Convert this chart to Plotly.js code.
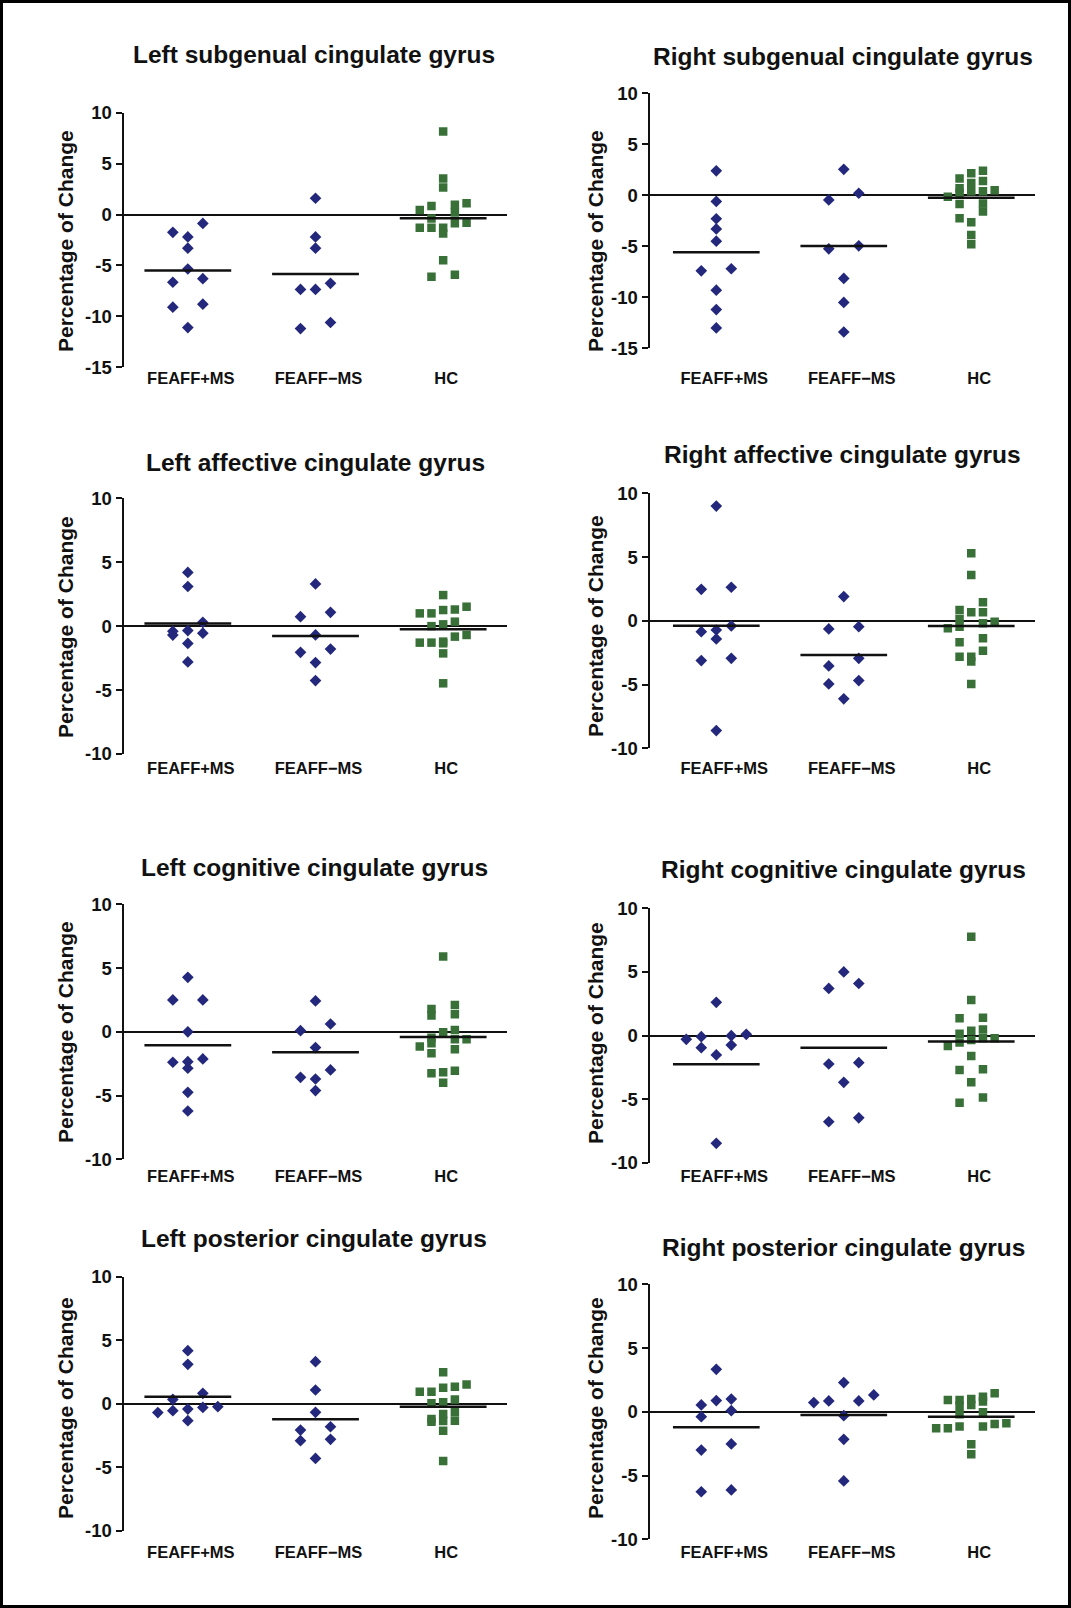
<!DOCTYPE html>
<html>
<head>
<meta charset="utf-8">
<script src="https://cdn.plot.ly/plotly-3.0.1.min.js"></script>
<style>
  html, body { margin: 0; padding: 0; background: #ffffff; }
  #chart { width: 1071px; height: 1608px; }
</style>
</head>
<body>
<div id="chart"></div>
<script>
// ---------------- DATA ----------------
const groups = ["FEAFF+MS", "FEAFF\u2212MS", "HC"];

const panelTitles = [
  "Left subgenual cingulate gyrus",
  "Right subgenual cingulate gyrus",
  "Left affective cingulate gyrus",
  "Right affective cingulate gyrus",
  "Left cognitive cingulate gyrus",
  "Right cognitive cingulate gyrus",
  "Left posterior cingulate gyrus",
  "Right posterior cingulate gyrus"
];
const yAxisTitle = "Percentage of Change";

const yTicksWide = [-15, -10, -5, 0, 5, 10];
const yTickTextWide = ["-15", "-10", "-5", "0", "5", "10"];
const yTicksNarrow = [-10, -5, 0, 5, 10];
const yTickTextNarrow = ["-10", "-5", "0", "5", "10"];

// Left subgenual
const lSubPlus  = [-0.87, -2.2, -1.75, -3.3, -5.35, -6.65, -6.3, -8.8, -9.1, -11.1];
const lSubMinus = [1.6, -2.2, -3.3, -6.75, -7.35, -7.35, -10.6, -11.2];
const lSubHC    = [8.15, 3.55, 2.65, 1.1, 0.85, 0.95, 0.2, 0.45, -0.4, -0.85, -0.8, -1.3, -1.3, -1.3, -1.85, -4.5, -6.1, -5.9];
const lSubMeans = [-5.5, -5.84, -0.37];

// Right subgenual
const rSubPlus  = [2.4, -0.6, -2.3, -3.3, -4.5, -7.2, -7.4, -9.3, -11.2, -13.0];
const rSubMinus = [2.55, 0.2, -0.45, -4.95, -5.25, -8.15, -10.5, -13.4];
const rSubHC    = [2.4, 2.15, 1.65, 1.4, 1.2, 0.7, 0.5, 0.4, 0.4, 0.25, -0.15, -0.85, -0.8, -1.6, -2.25, -2.65, -3.9, -4.8];
const rSubMeans = [-5.59, -4.97, -0.23];

// Left affective
const lAffPlus  = [4.2, 3.1, 0.3, -0.4, -0.7, -0.55, -0.35, -1.35, -2.8];
const lAffMinus = [3.3, 1.08, 0.74, -0.69, -2.05, -1.79, -2.85, -4.26];
const lAffHC    = [2.43, 1.52, 1.26, 1.3, 1.0, 1.0, 0.35, 0.14, 0.0, -0.69, -0.82, -1.29, -1.34, -1.29, -1.21, -2.13, -4.47];
const lAffMeans = [0.2, -0.77, -0.25];

// Right affective
const rAffPlus  = [9.0, 2.63, 2.47, -0.72, -0.85, -0.4, -1.42, -2.94, -3.12, -8.61];
const rAffMinus = [1.9, -0.46, -0.64, -2.94, -3.54, -4.69, -4.95, -6.12];
const rAffHC    = [5.3, 3.6, 1.45, 0.85, 0.67, 0.67, 0.14, -0.07, -0.46, -0.59, -0.2, -1.37, -1.69, -2.34, -2.81, -2.81, -3.2, -4.95];
const rAffMeans = [-0.38, -2.68, -0.41];

// Left cognitive
const lCogPlus  = [4.27, 2.5, 2.5, 0.0, -2.34, -2.39, -2.13, -2.86, -4.75, -6.21];
const lCogMinus = [2.42, 0.61, 0.09, -1.24, -2.99, -3.57, -3.7, -4.61];
const lCogHC    = [5.9, 2.1, 1.79, 1.27, 1.37, -0.04, 0.14, -0.59, -0.59, -0.46, -1.16, -0.9, -1.37, -1.69, -3.18, -3.05, -3.25, -3.99];
const lCogMeans = [-1.06, -1.61, -0.41];

// Right cognitive
const rCogPlus  = [2.61, -0.01, 0.09, -0.3, -0.09, -0.96, -0.75, -1.53, -8.48];
const rCogMinus = [5.0, 4.09, 3.7, -2.24, -2.14, -3.68, -6.47, -6.78];
const rCogHC    = [7.77, 2.79, 1.35, 1.4, 0.14, 0.48, 0.38, -0.35, -0.22, -0.22, -0.83, -0.56, -1.61, -2.71, -2.66, -3.68, -4.87, -5.28];
const rCogMeans = [-2.27, -0.96, -0.48];

// Left posterior
const lPosPlus  = [4.18, 3.11, 0.83, 0.35, -0.28, -0.54, -0.22, -0.69, -0.41, -1.32];
const lPosMinus = [3.32, 1.09, -0.67, -1.8, -2.06, -2.79, -2.9, -4.29];
const lPosHC    = [2.48, 1.53, 1.27, 1.35, 0.96, 0.96, 0.35, 0.12, 0.04, -0.8, -0.67, -1.32, -1.4, -1.35, -1.19, -2.11, -4.5];
const lPosMeans = [0.56, -1.22, -0.22];

// Right posterior
const rPosPlus  = [3.33, 1.0, 0.54, 0.88, 0.09, -0.38, -2.52, -3.0, -6.27, -6.13];
const rPosMinus = [2.29, 1.32, 0.85, 0.72, 0.85, -0.3, -2.16, -5.42];
const rPosHC    = [1.45, 1.0, 0.93, 0.8, 0.93, 1.18, 0.54, 0.48, -0.04, -0.2, -0.9, -1.16, -1.29, -1.29, -1.16, -0.95, -2.55, -3.33];
const rPosMeans = [-1.22, -0.25, -0.38];

// ---------------- LAYOUT CONFIG (pixel geometry) ----------------
const W = 1071, H = 1608;
const FONT = "Liberation Sans, Arial, Helvetica, sans-serif";
const INK = "#111111";
const DIAMOND = "#24287c";
const SQUARE = "#387038";

const colX = [[124, 507], [650, 1035]];
const colRange = [[-0.5, 2.5], [-0.52, 2.5]];
const colLabelShift = [3, 8];
const panelY = [[112.7, 367.3], [93.3, 348.3], [498.3, 754], [493.3, 748.3],
                [904.3, 1159.3], [908.3, 1162.7], [1276.7, 1531], [1284.3, 1539.3]];
const titlePos = [[314, 55], [843, 57], [315, 462], [842, 455], [314, 867], [843, 870], [314, 1238], [843, 1247]];
const yTitlePos = [[65, 241], [595, 241], [65, 627], [595, 626], [65, 1032], [595, 1033], [65, 1408], [595, 1408]];
const catLabelY = [377, 377, 767, 767, 1175, 1175, 1551, 1551];

const panels = [
  {sets: [lSubPlus, lSubMinus, lSubHC], means: lSubMeans, wide: true},
  {sets: [rSubPlus, rSubMinus, rSubHC], means: rSubMeans, wide: true},
  {sets: [lAffPlus, lAffMinus, lAffHC], means: lAffMeans, wide: false},
  {sets: [rAffPlus, rAffMinus, rAffHC], means: rAffMeans, wide: false},
  {sets: [lCogPlus, lCogMinus, lCogHC], means: lCogMeans, wide: false},
  {sets: [rCogPlus, rCogMinus, rCogHC], means: rCogMeans, wide: false},
  {sets: [lPosPlus, lPosMinus, lPosHC], means: lPosMeans, wide: false},
  {sets: [rPosPlus, rPosMinus, rPosHC], means: rPosMeans, wide: false}
];

// Column-scatter (swarm) offsets computed from values
function swarm(vals, pxPerUnit, step, binPx) {
  const idx = vals.map((v, i) => i).sort((a, b) => vals[b] - vals[a]);
  const off = new Array(vals.length).fill(0);
  const bins = [];
  let cur = [];
  idx.forEach(i => {
    if (cur.length && (vals[cur[0]] - vals[i]) * pxPerUnit > binPx) { bins.push(cur); cur = []; }
    cur.push(i);
  });
  if (cur.length) bins.push(cur);
  bins.forEach(b => {
    const n = b.length;
    let slots = [];
    if (n % 2 === 1) { for (let k = -(n - 1) / 2; k <= (n - 1) / 2; k++) slots.push(k); }
    else { for (let k = 1; k <= n / 2; k++) { slots.push(-k); slots.push(k); } slots.sort((a, c) => a - c); }
    const sorted = b.slice().sort((a, c) => vals[a] - vals[c]);
    sorted.forEach((i, j) => { off[i] = slots[j] * step; });
  });
  return off;
}

const traces = [];
const layout = {
  width: W, height: H,
  margin: {l: 0, r: 0, t: 0, b: 0},
  paper_bgcolor: "#ffffff",
  plot_bgcolor: "rgba(0,0,0,0)",
  showlegend: false,
  font: {family: FONT, color: INK},
  annotations: [],
  shapes: [{
    type: "rect", xref: "paper", yref: "paper",
    x0: 1.5 / W, x1: 1 - 1.5 / W, y0: 1.5 / H, y1: 1 - 1.5 / H,
    line: {color: "#000000", width: 3}, fillcolor: "rgba(0,0,0,0)"
  }]
};

panels.forEach((p, i) => {
  const col = i % 2;
  const n = i + 1;
  const xa = n === 1 ? "x" : "x" + n;
  const ya = n === 1 ? "y" : "y" + n;
  const xKey = n === 1 ? "xaxis" : "xaxis" + n;
  const yKey = n === 1 ? "yaxis" : "yaxis" + n;
  const [x0, x1] = colX[col];
  const [yt, yb] = panelY[i];
  const xr = colRange[col];
  const yr = p.wide ? [-15, 10] : [-10, 10];
  const pxPerCat = (x1 - x0) / (xr[1] - xr[0]);
  const pxPerVal = (yb - yt) / (yr[1] - yr[0]);

  layout[xKey] = {
    domain: [x0 / W, x1 / W], range: xr, anchor: "free",
    position: 1 - (catLabelY[i] - 11) / H,
    showline: false, showgrid: false, zeroline: false, ticks: "",
    tickmode: "array", tickvals: [0, 1, 2], ticktext: groups,
    ticklabelshift: colLabelShift[col],
    tickfont: {family: FONT, size: 16.5, color: INK, weight: "bold"},
    fixedrange: true
  };
  layout[yKey] = {
    domain: [1 - yb / H, 1 - yt / H], range: yr, anchor: xa,
    showline: true, linewidth: 2.5, linecolor: INK,
    ticks: "outside", ticklen: 6, tickwidth: 2, tickcolor: INK,
    tickmode: "array",
    tickvals: p.wide ? yTicksWide : yTicksNarrow,
    ticktext: p.wide ? yTickTextWide : yTickTextNarrow,
    tickfont: {family: FONT, size: 18.5, color: INK, weight: "bold"},
    showgrid: false, zeroline: true, zerolinecolor: INK, zerolinewidth: 2,
    fixedrange: true
  };

  p.sets.forEach((vals, g) => {
    const isHC = g === 2;
    const step = (isHC ? 11.7 : 15) / pxPerCat;
    const off = swarm(vals, pxPerVal, step, isHC ? 8 : 9);
    traces.push({
      type: "scatter", mode: "markers", xaxis: xa, yaxis: ya,
      x: vals.map((v, k) => g + off[k]), y: vals,
      marker: {
        symbol: isHC ? "square" : "diamond",
        size: isHC ? 8.5 : 9,
        color: isHC ? SQUARE : DIAMOND,
        line: {width: 0}
      },
      hoverinfo: "y"
    });
  });
  p.means.forEach((m, g) => {
    traces.push({
      type: "scatter", mode: "lines", xaxis: xa, yaxis: ya,
      x: [g - 0.34, g + 0.34], y: [m, m],
      line: {color: INK, width: 2.5},
      hoverinfo: "skip"
    });
  });

  layout.annotations.push({
    xref: "paper", yref: "paper",
    x: titlePos[i][0] / W, y: 1 - titlePos[i][1] / H,
    xanchor: "center", yanchor: "middle", showarrow: false,
    text: "<b>" + panelTitles[i] + "</b>",
    font: {family: FONT, size: 24.5, color: INK}
  });
  layout.annotations.push({
    xref: "paper", yref: "paper",
    x: yTitlePos[i][0] / W, y: 1 - yTitlePos[i][1] / H,
    xanchor: "center", yanchor: "middle", showarrow: false,
    textangle: -90,
    text: "<b>" + yAxisTitle + "</b>",
    font: {family: FONT, size: 21, color: INK}
  });
});

Plotly.newPlot("chart", traces, layout, {displayModeBar: false, staticPlot: true});
</script>
</body>
</html>
